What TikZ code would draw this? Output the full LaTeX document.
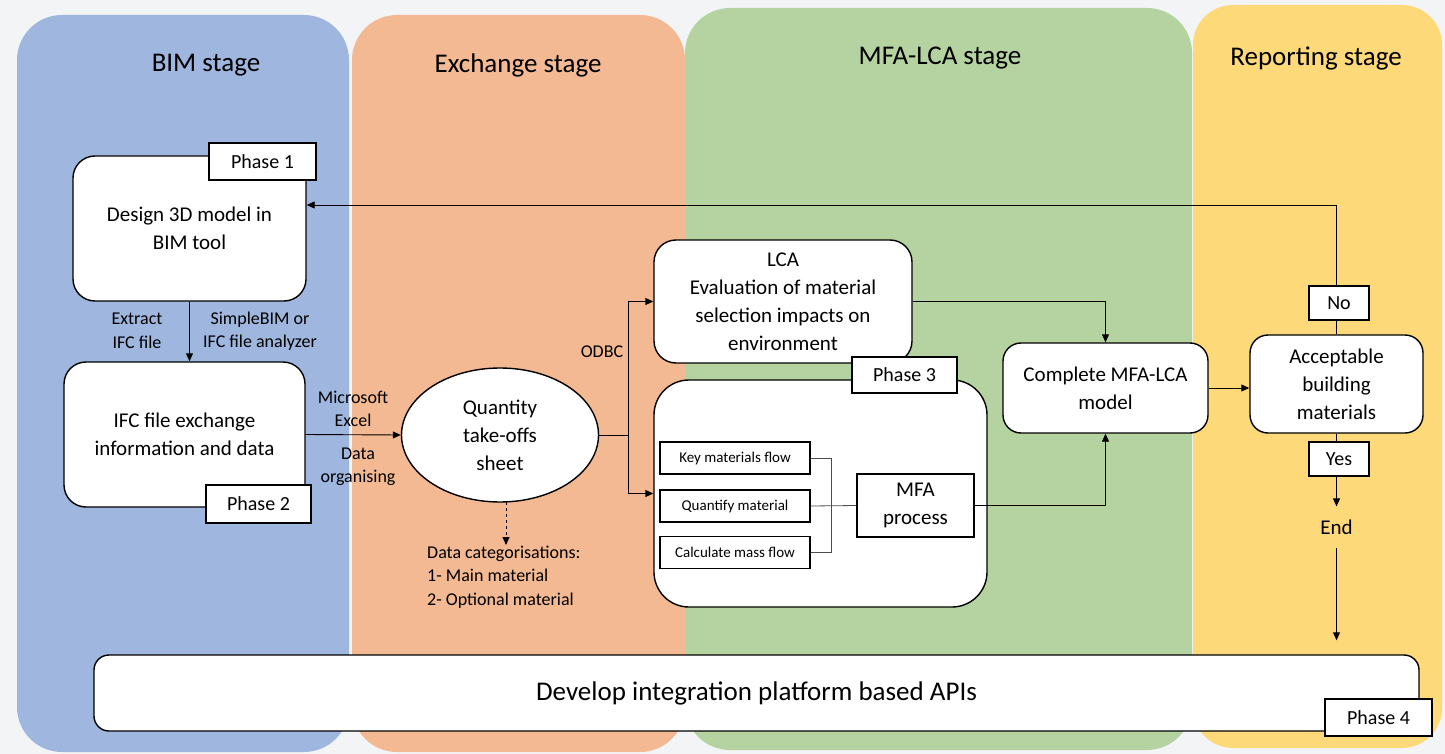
\documentclass[tikz,border=0pt]{standalone}
\usepackage{fontspec}
\setmainfont{Carlito}
\usetikzlibrary{arrows.meta,shapes.geometric}

\definecolor{bimblue}{HTML}{9FB6DE}
\definecolor{xchorange}{HTML}{F3B993}
\definecolor{lcagreen}{HTML}{B4D3A0}
\definecolor{repyellow}{HTML}{FDD97A}
\definecolor{paper}{HTML}{F3F4F5}

\begin{document}
\begin{tikzpicture}[x=1pt, y=-1pt,
  box/.style={draw, line width=1.4pt, fill=white, rounded corners=22pt,
    align=center, inner sep=0pt, font=\fontsize{21}{28}\selectfont},
  tag/.style={draw, line width=1.3pt, fill=white, inner sep=0pt,
    font=\fontsize{20}{24}\selectfont},
  task/.style={draw, line width=1.2pt, fill=white, minimum width=150pt,
    minimum height=32pt, inner sep=0pt, font=\fontsize{15}{18}\selectfont},
  note/.style={align=center, inner sep=0pt, font=\fontsize{18}{23.5}\selectfont},
  title/.style={inner sep=0pt, font=\fontsize{27}{32}\selectfont},
  arr/.style={-{Triangle[length=8pt,width=7pt]}, line width=0.9pt}]

  % page and the four stage panels
  \useasboundingbox (0,0) rectangle (1445,754);
  \fill[paper] (0,0) rectangle (1445,754);
  \fill[bimblue, rounded corners=45pt] (17,15) rectangle (349,752);
  \fill[xchorange, rounded corners=45pt] (352,15) rectangle (685,752);
  \fill[lcagreen, rounded corners=45pt] (685,8) rectangle (1192,750);
  \fill[repyellow, rounded corners=40pt] (1193,5) rectangle (1442,748);

  \node[title] (t1) at (206,65) {BIM stage};
  \node[title] (t2) at (518,65) {Exchange stage};
  \node[title] (t3) at (940,58) {MFA-LCA stage};
  \node[title] (t4) at (1316,58) {Reporting stage};

  % BIM stage
  \node[box, minimum width=233pt, minimum height=145pt] (design) at (189.5,228.5)
    {Design 3D model in\\ BIM tool};
  \node[box, minimum width=241pt, minimum height=145pt] (ifc) at (184.5,434.5)
    {IFC file exchange\\ information and data};
  \node[tag, minimum width=107pt, minimum height=37pt] (ph1) at (262.5,161.5) {Phase 1};
  \node[tag, minimum width=105pt, minimum height=38pt] (ph2) at (258.5,504) {Phase 2};

  \draw[arr] (design.south) -- (design.south |- ifc.north);
  \node[note] (extract) at (137,331) {Extract\\ IFC file};
  \node[note] (simple) at (260,331) {SimpleBIM or\\ IFC file analyzer};

  % Exchange stage
  \node[draw, ellipse, line width=1.4pt, fill=white, minimum width=197pt,
    minimum height=134pt, inner sep=0pt, align=center,
    font=\fontsize{21}{28}\selectfont] (qto) at (500,435) {Quantity\\ take-offs\\ sheet};
  \draw[arr] (ifc.east) -- (qto.west);
  \node[note] (excel) at (353,409) {Microsoft\\ Excel};
  \node[note] (organise) at (358,467) {Data\\ organising};

  \draw[arr, dashed] (506,502) -- (506,545);
  \node[note, align=left, anchor=west] (categ) at (427,577)
    {Data categorisations:\\ 1- Main material\\ 2- Optional material};

  % MFA-LCA stage
  \node[box, minimum width=258pt, minimum height=123pt] (lca) at (783,301.5)
    {LCA\\ Evaluation of material\\ selection impacts on\\ environment};
  \node[box, rounded corners=35pt, minimum width=333pt, minimum height=227pt]
    (mfabox) at (820.5,493.5) {};
  \node[tag, minimum width=105pt, minimum height=36pt] (ph3) at (904.5,375) {Phase 3};

  \node[task] (key) at (735,458) {Key materials flow};
  \node[task] (qty) at (735,506) {Quantify material};
  \node[task] (calc) at (735,552.5) {Calculate mass flow};
  \node[draw, line width=1.3pt, fill=white, minimum width=117pt, minimum height=63pt,
    inner sep=0pt, align=center, font=\fontsize{21}{28}\selectfont]
    (mfa) at (915.5,505.5) {MFA\\ process};

  \coordinate (join) at (831,506);
  \draw[line width=0.8pt, black!70] (key.east) -| (join);
  \draw[line width=0.8pt, black!70] (calc.east) -| (join);
  \draw[line width=0.8pt, black!70] (qty.east) -- (mfa.west);

  \coordinate (odbc) at (628,435);
  \draw[line width=0.9pt] (qto.east) -- (odbc);
  \draw[arr] (odbc) |- (lca.west);
  \draw[arr] (odbc) |- (mfabox.west);
  \node[note] (odbclabel) at (602,352) {ODBC};

  \node[box, rounded corners=18pt, minimum width=205pt, minimum height=90pt]
    (complete) at (1105.5,388) {Complete MFA-LCA\\ model};
  \draw[arr] (lca.east) -| (complete.north);
  \draw[arr] (mfa.east) -| (complete.south);

  % Reporting stage
  \node[box, rounded corners=18pt, minimum width=173pt, minimum height=98pt]
    (accept) at (1336.5,384) {Acceptable\\ building\\ materials};
  \draw[arr] (complete.east) -- (complete.east -| accept.west);

  \coordinate (back) at (1336.5,205);
  \draw[arr] (accept.north) -- (back) -- (back -| design.east);
  \node[tag, minimum width=60pt, minimum height=34pt] (no) at (1339,303) {No};

  \node[inner xsep=0pt, inner ysep=13pt, font=\fontsize{21}{24}\selectfont]
    (end) at (1336.5,527) {End};
  \draw[arr] (accept.south) -- (end.north);
  \node[tag, minimum width=60pt, minimum height=34pt] (yes) at (1339,459) {Yes};

  % platform across all stages
  \node[draw, line width=1.4pt, fill=white, rounded corners=15pt, minimum width=1325pt,
    minimum height=76pt, inner sep=0pt, font=\fontsize{27}{32}\selectfont]
    (api) at (756.5,693) {Develop integration platform based APIs};
  \draw[arr, shorten >=14pt] (end.south) -- (end.south |- api.north);
  \node[tag, minimum width=107pt, minimum height=37pt] (ph4) at (1378.5,717.5) {Phase 4};
\end{tikzpicture}
\end{document}
